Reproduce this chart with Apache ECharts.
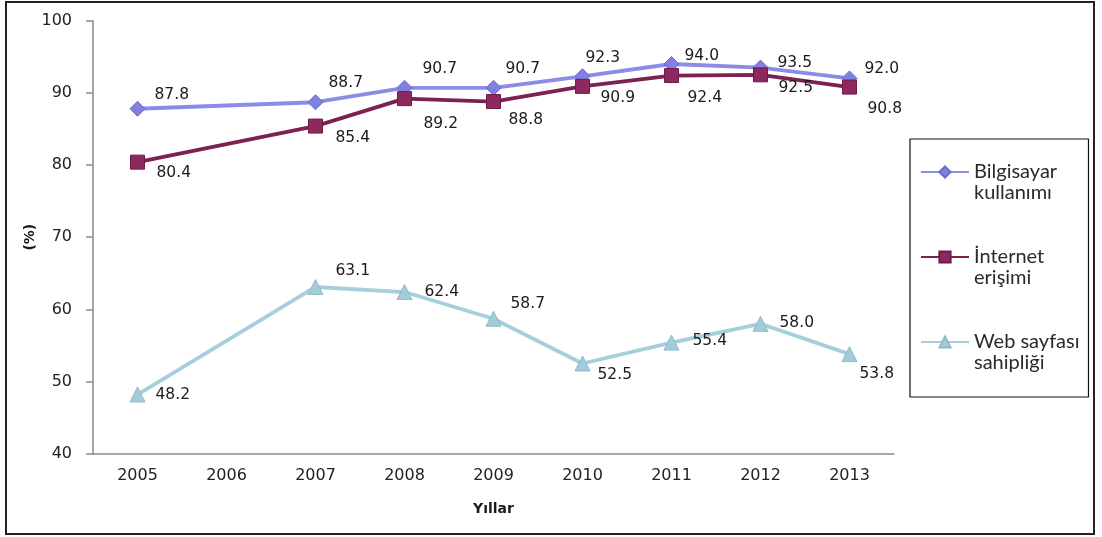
<!DOCTYPE html>
<html>
<head>
<meta charset="utf-8">
<script src="https://cdn.jsdelivr.net/npm/echarts@6/dist/echarts.min.js"></script>
<style>
  html, body { margin: 0; padding: 0; background: #ffffff; }
  #chart { width: 1102px; height: 537px; }
</style>
</head>
<body>
<div id="chart"></div>
<script>
// Years on the category axis (no survey in 2006)
const years = ['2005', '2006', '2007', '2008', '2009', '2010', '2011', '2012', '2013'];

// Share of enterprises (%)
const bilgisayarKullanimi = [87.8, null, 88.7, 90.7, 90.7, 92.3, 94.0, 93.5, 92.0];
const internetErisimi     = [80.4, null, 85.4, 89.2, 88.8, 90.9, 92.4, 92.5, 90.8];
const webSayfasiSahipligi = [48.2, null, 63.1, 62.4, 58.7, 52.5, 55.4, 58.0, 53.8];

// Series names as shown in the legend
const seriesNames = ['Bilgisayar kullanımı', 'İnternet erişimi', 'Web sayfası sahipliği'];
// Leading blank line keeps the legend icon level with the first text line
const legendLines = {
  'Bilgisayar kullanımı': '\nBilgisayar\nkullanımı',
  'İnternet erişimi': '\nİnternet\nerişimi',
  'Web sayfası sahipliği': '\nWeb sayfası\nsahipliği'
};

// Y-axis range
const yMin = 40, yMax = 100, yStep = 10;

// Value-label placement (pixel offset from the marker centre) per point
const labelShift = {
  bilgisayar: [[17, -14], null, [13, -19], [18, -19], [12, -19], [3, -18], [13, -8], [17, -5], [15, -9]],
  internet:   [[19, 11], null, [20, 12], [19, 25], [15, 18], [18, 12], [16, 22], [18, 13], [18, 22]],
  web:        [[18, 0], null, [20, -16], [20, 0], [17, -15], [15, 11], [21, -2], [19, -1], [10, 20]]
};

const labelFont = { fontFamily: 'DejaVu Sans', fontSize: 15.5, color: '#1a1a1a' };

function points(values, shifts) {
  return values.map((v, i) => {
    if (v === null) return '-';
    return {
      value: v,
      label: { offset: shifts[i] }
    };
  });
}

function lineSeries(name, values, shifts, color, symbol, symbolSize, markerColor, borderColor) {
  return {
    name: name,
    type: 'line',
    data: points(values, shifts),
    connectNulls: true,
    symbol: symbol,
    symbolSize: symbolSize,
    lineStyle: { color: color, width: 3.8 },
    itemStyle: { color: markerColor, borderColor: borderColor, borderWidth: 1 },
    label: {
      show: true,
      position: 'inside',
      align: 'left',
      verticalAlign: 'middle',
      formatter: p => p.value.toFixed(1),
      ...labelFont
    },
    emphasis: { disabled: true },
    animation: false
  };
}

const chart = echarts.init(document.getElementById('chart'));

chart.setOption({
  backgroundColor: '#ffffff',
  animation: false,
  grid: { left: 93, top: 20.7, width: 801, height: 433, containLabel: false },
  xAxis: {
    type: 'category',
    data: years,
    boundaryGap: true,
    name: 'Yıllar',
    nameLocation: 'middle',
    nameGap: 49,
    nameMoveOverlap: false,
    nameTextStyle: { fontFamily: 'DejaVu Sans', fontWeight: 'bold', fontSize: 14, color: '#1a1a1a', verticalAlign: 'top' },
    axisLine: { lineStyle: { color: '#8a8a8a', width: 1.5 } },
    axisTick: { show: false },
    axisLabel: { fontFamily: 'DejaVu Sans', fontSize: 16, color: '#222', margin: 14, interval: 0 },
    splitLine: { show: false }
  },
  yAxis: {
    type: 'value',
    min: yMin,
    max: yMax,
    interval: yStep,
    name: '(%)',
    nameLocation: 'middle',
    nameGap: 56,
    nameMoveOverlap: false,
    nameRotate: 90,
    nameTextStyle: { fontFamily: 'DejaVu Sans', fontWeight: 'bold', fontSize: 14, color: '#1a1a1a' },
    axisLine: { show: true, lineStyle: { color: '#8a8a8a', width: 1.5 } },
    axisTick: { show: true, length: 7, lineStyle: { color: '#8a8a8a', width: 1.5 } },
    axisLabel: { fontFamily: 'DejaVu Sans', fontSize: 16, color: '#222', margin: 21 },
    splitLine: { show: false }
  },
  legend: {
    orient: 'vertical',
    left: 910,
    top: 139,
    padding: [1.5, 9, 23.5, 10],
    itemGap: 22,
    itemWidth: 48,
    itemHeight: 14,
    borderColor: '#111',
    borderWidth: 1.2,
    data: seriesNames,
    formatter: n => legendLines[n],
    textStyle: {
      fontFamily: 'Lato',
      fontSize: 20,
      color: '#2a2a2a',
      lineHeight: 21
    }
  },
  graphic: [{
    type: 'rect',
    shape: { x: 6, y: 2, width: 1088, height: 532 },
    style: { fill: 'none', stroke: '#222', lineWidth: 2 },
    silent: true,
    z: -1
  }],
  series: [
    lineSeries(seriesNames[0], bilgisayarKullanimi, labelShift.bilgisayar, '#8c8ce6', 'diamond', 15, '#8080e0', '#6a6acc'),
    lineSeries(seriesNames[1], internetErisimi, labelShift.internet, '#7d2150', 'rect', 14, '#8e2860', '#6e1c48'),
    lineSeries(seriesNames[2], webSayfasiSahipligi, labelShift.web, '#a6cfdd', 'triangle', 15, '#a3cbd9', '#8fbccb')
  ]
});
</script>
</body>
</html>
